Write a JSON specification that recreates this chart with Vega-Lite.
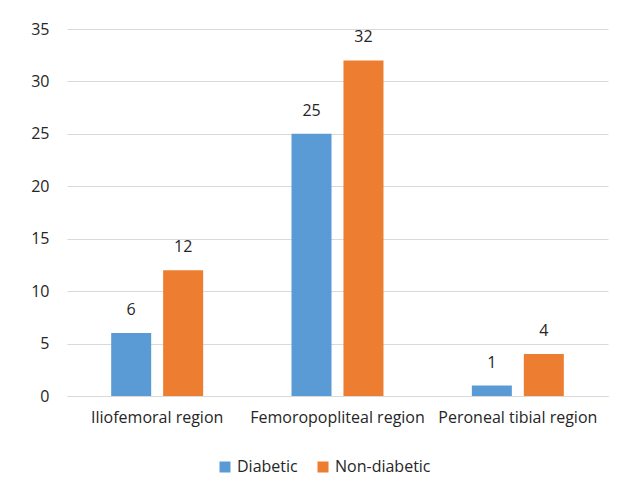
{
  "$schema": "https://vega.github.io/schema/vega-lite/v6.json",
  "width": 541,
  "height": 367,
  "autosize": {"type": "none"},
  "padding": {"left": 67, "top": 29, "right": 30, "bottom": 102},
  "background": "white",
  "config": {
    "font": "Open Sans",
    "view": {"stroke": null},
    "text": {"font": "Open Sans"}
  },
  "data": {
    "values": [
      {"region": "Iliofemoral region", "group": "Diabetic", "count": 6},
      {"region": "Iliofemoral region", "group": "Non-diabetic", "count": 12},
      {"region": "Femoropopliteal region", "group": "Diabetic", "count": 25},
      {"region": "Femoropopliteal region", "group": "Non-diabetic", "count": 32},
      {"region": "Peroneal tibial region", "group": "Diabetic", "count": 1},
      {"region": "Peroneal tibial region", "group": "Non-diabetic", "count": 4}
    ]
  },
  "encoding": {
    "x": {
      "field": "region",
      "type": "nominal",
      "sort": ["Iliofemoral region", "Femoropopliteal region", "Peroneal tibial region"],
      "scale": {"paddingInner": 0.49, "paddingOuter": 0.245},
      "axis": {
        "title": null,
        "labelAngle": 0,
        "domainColor": "#d9d9d9",
        "domainWidth": 1,
        "ticks": false,
        "labelPadding": 13,
        "labelFontSize": 16,
        "labelColor": "#262626",
        "labelFont": "Open Sans"
      }
    },
    "xOffset": {
      "field": "group",
      "type": "nominal",
      "sort": ["Diabetic", "Non-diabetic"],
      "scale": {"paddingInner": 0.23, "paddingOuter": 0}
    },
    "y": {
      "field": "count",
      "type": "quantitative",
      "scale": {"domain": [0, 35], "nice": false},
      "axis": {
        "title": null,
        "values": [0, 5, 10, 15, 20, 25, 30, 35],
        "domain": false,
        "ticks": false,
        "gridColor": "#d9d9d9",
        "gridWidth": 1,
        "labelPadding": 18,
        "labelFontSize": 16,
        "labelColor": "#262626",
        "labelFont": "Open Sans"
      }
    }
  },
  "layer": [
    {
      "mark": {"type": "bar"},
      "encoding": {
        "color": {
          "field": "group",
          "type": "nominal",
          "scale": {"domain": ["Diabetic", "Non-diabetic"], "range": ["#5B9BD5", "#ED7D31"]},
          "legend": {
            "title": null,
            "orient": "none",
            "direction": "horizontal",
            "legendX": 150,
            "legendY": 430,
            "symbolType": "square",
            "symbolSize": 121,
            "symbolStrokeWidth": 0,
            "labelFontSize": 16,
            "labelColor": "#262626",
            "labelFont": "Open Sans",
            "columnPadding": 17,
            "labelOffset": 4
          }
        }
      }
    },
    {
      "mark": {"type": "text", "baseline": "alphabetic", "dy": -18, "fontSize": 16, "color": "#262626"},
      "encoding": {
        "text": {"field": "count", "type": "quantitative"}
      }
    }
  ]
}
